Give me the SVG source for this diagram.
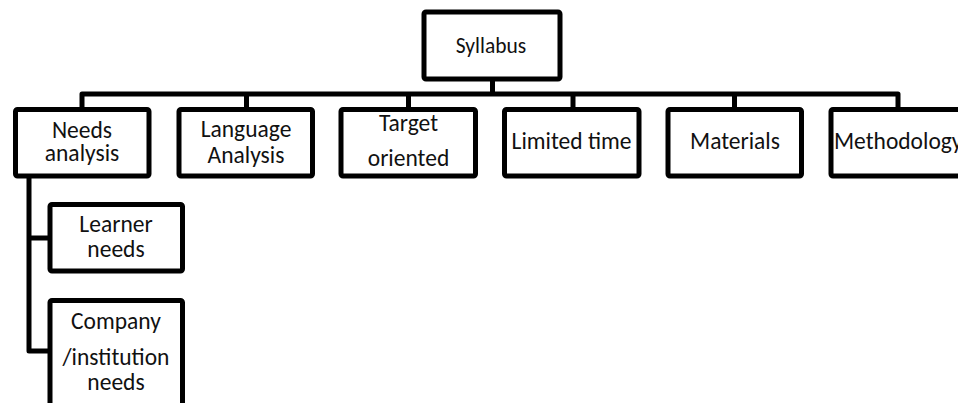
<svg xmlns="http://www.w3.org/2000/svg" width="958" height="403" viewBox="0 0 958 403">
<style>
.box{fill:#fff;stroke:#000;stroke-width:5;}
.conn{fill:none;stroke:#000;stroke-width:5;stroke-linejoin:round;}
text{font-family:Carlito,Lato,"Liberation Sans",sans-serif;font-size:23.5px;fill:#111;text-anchor:middle;}
</style>
<rect width="958" height="403" fill="#fff"/>
<g id="connectors">
<path class="conn" d="M492.5 79 V94"/>
<path class="conn" d="M82 109.5 V94 H898 V109.5"/>
<path class="conn" d="M246.5 94 V109.5"/>
<path class="conn" d="M408.5 94 V109.5"/>
<path class="conn" d="M573 94 V109.5"/>
<path class="conn" d="M734.5 94 V109.5"/>
<path class="conn" d="M29 176 V351 H50"/>
<path class="conn" d="M29 238 H50"/>
</g>
<g id="syllabus">
<rect class="box" x="424" y="12" width="136" height="67" rx="2"/>
<text x="491" y="53" style="font-size:21.5px">Syllabus</text>
</g>
<g id="needs-analysis">
<rect class="box" x="15.5" y="109.5" width="133.5" height="66.5" rx="2"/>
<text x="82" y="137.5">Needs</text>
<text x="82" y="161">analysis</text>
</g>
<g id="language-analysis">
<rect class="box" x="179" y="109.5" width="133.5" height="66.5" rx="2"/>
<text x="246" y="136.5">Language</text>
<text x="246" y="162.5">Analysis</text>
</g>
<g id="target-oriented">
<rect class="box" x="341" y="109.5" width="134.5" height="66.5" rx="2"/>
<text x="408.5" y="130.5">Target</text>
<text x="408.5" y="166">oriented</text>
</g>
<g id="limited-time">
<rect class="box" x="504.5" y="109.5" width="134.5" height="66.5" rx="2"/>
<text x="571.5" y="149">Limited time</text>
</g>
<g id="materials">
<rect class="box" x="668" y="109.5" width="133.5" height="66.5" rx="2"/>
<text x="735" y="149">Materials</text>
</g>
<g id="methodology">
<rect class="box" x="831" y="109.5" width="134" height="66.5" rx="2"/>
<text x="834" y="149" style="text-anchor:start">Methodology</text>
</g>
<g id="learner-needs">
<rect class="box" x="50" y="204.5" width="132.5" height="66.5" rx="2"/>
<text x="116" y="231.5">Learner</text>
<text x="116" y="257">needs</text>
</g>
<g id="company-needs">
<rect class="box" x="50" y="300.5" width="132.5" height="115" rx="2"/>
<text x="116" y="329">Company</text>
<text x="116" y="365">/institution</text>
<text x="116" y="390">needs</text>
</g>
</svg>
